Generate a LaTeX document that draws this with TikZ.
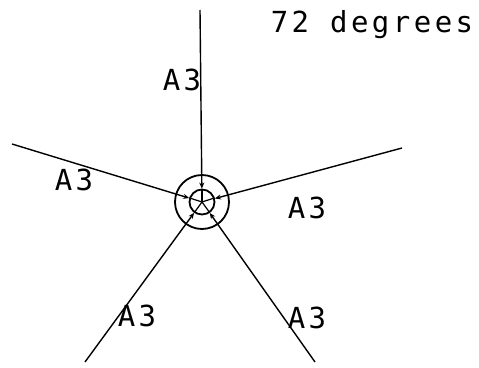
\documentclass[tikz,border=0pt]{standalone}
\usepackage{fontspec}
\newfontfamily\labfont[LetterSpace=12]{DejaVu Sans Mono}
\usetikzlibrary{arrows.meta}
\begin{document}
\begin{tikzpicture}[x=1pt,y=-1pt,
  spoke/.style={line width=1.4pt,-{Stealth[length=6pt,width=5pt]}},
  hub/.style={circle,draw,line width=1.8pt,inner sep=0pt},
  lab/.style={font=\labfont\fontsize{29}{31}\selectfont,inner sep=0pt}]
\useasboundingbox (0,0) rectangle (479,367);
\coordinate (c) at (202,202);
\node[hub,minimum size=54pt] (outer) at (c) {};
\node[hub,minimum size=25pt] (inner) at (c) {};
\coordinate (eT) at (200,10);
\coordinate (eUL) at (12,144);
\coordinate (eUR) at (402,148);
\coordinate (eLL) at (85,362);
\coordinate (eLR) at (315,362);
\foreach \e in {eT,eUL,eUR,eLL,eLR}{\draw[spoke] (\e) -- (inner);}
\foreach \a in {90,162,18,234,306}{\draw[line width=1.2pt] (inner.\a) -- (c);}
\node[lab] (t0) at (372,25) {72 degrees};
\node[lab] (t1) at (182,80) {A3};
\node[lab] (t2) at (74,180) {A3};
\node[lab] (t3) at (307,208) {A3};
\node[lab] (t4) at (137,316) {A3};
\node[lab] (t5) at (307,318) {A3};
\end{tikzpicture}
\end{document}
